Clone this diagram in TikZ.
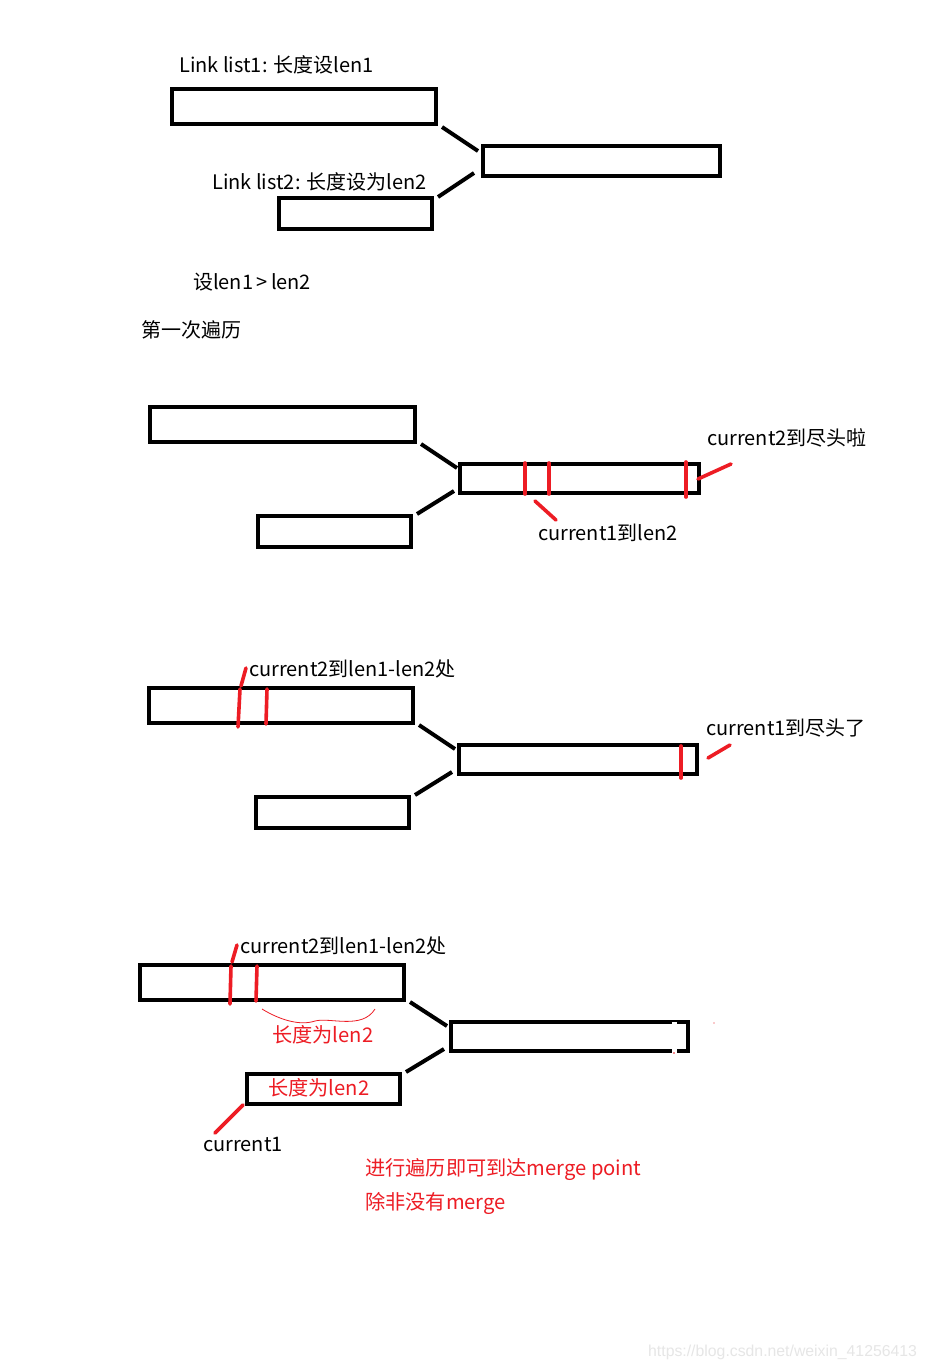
\documentclass[tikz,border=0pt]{standalone}
\usepackage{fontspec}
\setmainfont{Noto Sans CJK SC}
\newfontfamily\wmfont{Liberation Sans}
\usetikzlibrary{calc}
\definecolor{pred}{HTML}{ED1C24}
\definecolor{wmark}{HTML}{E6E6E6}
\tikzset{
  box/.style={draw=black,line width=4pt,fill=white,minimum width=#1,inner sep=0pt,outer sep=0pt,anchor=north west},
  link/.style={draw=black,line width=4pt},
  redmark/.style={draw=pred,line width=3.6pt,line cap=round},
  txt/.style={anchor=base west,inner sep=0pt,font=\fontsize{20}{23}\selectfont},
  rtxt/.style={txt,text=pred,font=\fontsize{20.2}{23}\selectfont},
}
\begin{document}
\begin{tikzpicture}[x=1pt,y=-1pt]
\useasboundingbox[fill=white] (0,0) rectangle (928,1368);

% ---------- diagram 1 ----------
\node[box=264pt,minimum height=35pt] (a1) at (172,89) {};
\node[box=237pt,minimum height=30pt] (b1) at (483,146) {};
\node[box=153pt,minimum height=31pt] (c1) at (279,198) {};
\draw[link] ($(a1.south east)+(6,3)$) -- ($(b1.north west)+(-5,5)$);
\draw[link] ($(c1.north east)+(6,-1)$) -- ($(b1.south west)+(-9,-3)$);
\node[txt] (t1) at (179,72) {Link list1: 长度设len1};
\node[txt] (t2) at (212,189) {Link list2: 长度设为len2};
\node[txt] (t3) at (193,289) {设len1\,>\,len2};
\node[txt] (t4) at (141,337) {第一次遍历};

% ---------- diagram 2 ----------
\node[box=265pt,minimum height=35pt] (a2) at (150,407) {};
\node[box=239pt,minimum height=29pt] (b2) at (460,464) {};
\node[box=153pt,minimum height=31pt] (c2) at (258,516) {};
\draw[link] ($(a2.south east)+(6,2)$) -- ($(b2.north west)+(-3,4)$);
\draw[link] ($(c2.north east)+(6,-2)$) -- ($(b2.south west)+(-6,-2)$);
\draw[redmark] (525,463) -- (525,494);
\draw[redmark] (549,463) -- (549,494);
\draw[redmark] (686,462) -- (686,497);
\coordinate (p2a) at (698,479);
\coordinate (p2b) at (535,501);
\node[txt] (t5) at (707,445) {current2到尽头啦};
\node[txt] (t6) at (538,540) {current1到len2};
\draw[redmark] (p2a) -- (731,464);
\draw[redmark] (p2b) -- (556,520);

% ---------- diagram 3 ----------
\node[box=264pt,minimum height=35pt] (a3) at (149,688) {};
\node[box=238pt,minimum height=29pt] (b3) at (459,745) {};
\node[box=153pt,minimum height=31pt] (c3) at (256,797) {};
\draw[link] ($(a3.south east)+(6,2)$) -- ($(b3.north west)+(-4,4)$);
\draw[link] ($(c3.north east)+(6,-2)$) -- ($(b3.south west)+(-7,-2)$);
\draw[redmark] (238,727) -- (240,689);
\draw[redmark] (266,724) -- (267,689);
\draw[redmark] (681,746) -- (681,778);
\coordinate (p3a) at (241,686);
\coordinate (p3b) at (708,758);
\node[txt] (t7) at (249,676) {current2到len1-len2处};
\node[txt] (t8) at (706,735) {current1到尽头了};
\draw[redmark] (p3a) -- (246,668);
\draw[redmark] (p3b) -- (730,745);

% ---------- diagram 4 ----------
\node[box=264pt,minimum height=35pt] (a4) at (140,965) {};
\node[box=237pt,minimum height=29pt] (b4) at (451,1022) {};
\node[box=153pt,minimum height=30pt] (c4) at (247,1074) {};
\draw[link] ($(a4.south east)+(6,2)$) -- ($(b4.north west)+(-4,4)$);
\draw[link] ($(c4.north east)+(6,-2)$) -- ($(b4.south west)+(-7,-2)$);
\fill[white] (672,1021.5) rectangle (677,1025);
\fill[white] (672,1049) rectangle (677,1053.5);
\fill[pred] (674,1053) circle (0.8);
\fill[pred] (714,1023) circle (0.6);
\draw[redmark] (230,1004) -- (231,966);
\draw[redmark] (256,1001) -- (257,966);
\coordinate (p4a) at (232,962);
\coordinate (p4b) at (243,1105);
\node[txt] (t9) at (240,953) {current2到len1-len2处};
\draw[redmark] (p4a) -- (237,945);
\draw[pred,line width=0.8pt] (262,1009) .. controls (280,1020) and (300,1026) .. (315,1021)
  .. controls (330,1017) and (362,1030) .. (375,1009);
\node[rtxt] (t10) at (272,1042) {长度为len2};
\node[rtxt] (t11) at (268,1095) {长度为len2};
\node[txt] (t12) at (203,1151) {current1};
\draw[redmark] (p4b) -- (215,1133);
\node[rtxt] (t13) at (365,1175) {进行遍历即可到达merge point};
\node[rtxt] (t14) at (365,1209) {除非没有merge};

\node[anchor=base west,inner sep=0pt,text=wmark,font=\wmfont\fontsize{15.8}{17}\selectfont] (wm) at (648,1356) {https://blog.csdn.net/weixin\_41256413};
\end{tikzpicture}
\end{document}
